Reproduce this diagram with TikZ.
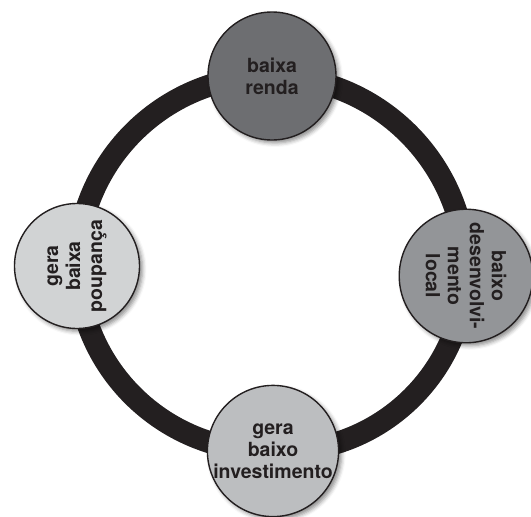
\documentclass[tikz,border=0pt]{standalone}
\usepackage{fontspec}
\setmainfont{TeX Gyre Heros}
\usetikzlibrary{shadows.blur,backgrounds}
\definecolor{ringblack}{HTML}{231F20}
\definecolor{darkfill}{HTML}{6D6E71}
\definecolor{midfill}{HTML}{939598}
\definecolor{palefill}{HTML}{D1D3D4}
\definecolor{lightfill}{HTML}{BCBEC0}
\tikzset{
  bubble/.style={circle, draw=ringblack, line width=1.4pt, inner sep=0pt,
    minimum size=125pt, align=center, text=ringblack,
    font=\bfseries\fontsize{19.5}{22}\selectfont,
    blur shadow={shadow xshift=3pt, shadow yshift=-3pt,
      shadow blur radius=4pt, shadow opacity=45}},
  ring/.style={line width=22pt, draw=ringblack},
  ringshade/.style={line width=22pt, draw=black, opacity=0.18}
}

\begin{document}
\begin{tikzpicture}[x=1pt, y=-1pt]
\useasboundingbox (0,0) rectangle (531,517);
\node[bubble, fill=darkfill, minimum size=128pt] (renda) at (272,76) {baixa\\renda};
\node[bubble, fill=midfill, rotate=-90] (desenv) at (466,276) {baixo\\desenvolvi-\\mento\\local};
\node[bubble, fill=lightfill, minimum size=128pt] (invest) at (273,451) {gera\\baixo\\investimento};
\node[bubble, fill=palefill, rotate=90] (poupanca) at (77,266) {gera\\baixa\\poupança};
% the ring behind the circles
\begin{scope}[on background layer]
  \begin{scope}[xshift=3pt, yshift=-4pt]
    \draw[ringshade] (renda.center) to[bend left=45] (desenv.center)
      to[bend left=45] (invest.center) to[bend left=45] (poupanca.center)
      to[bend left=45] (renda.center);
  \end{scope}
  \draw[ring] (renda.center) to[bend left=45] (desenv.center)
    to[bend left=45] (invest.center) to[bend left=45] (poupanca.center)
    to[bend left=45] (renda.center);
\end{scope}
\end{tikzpicture}
\end{document}
